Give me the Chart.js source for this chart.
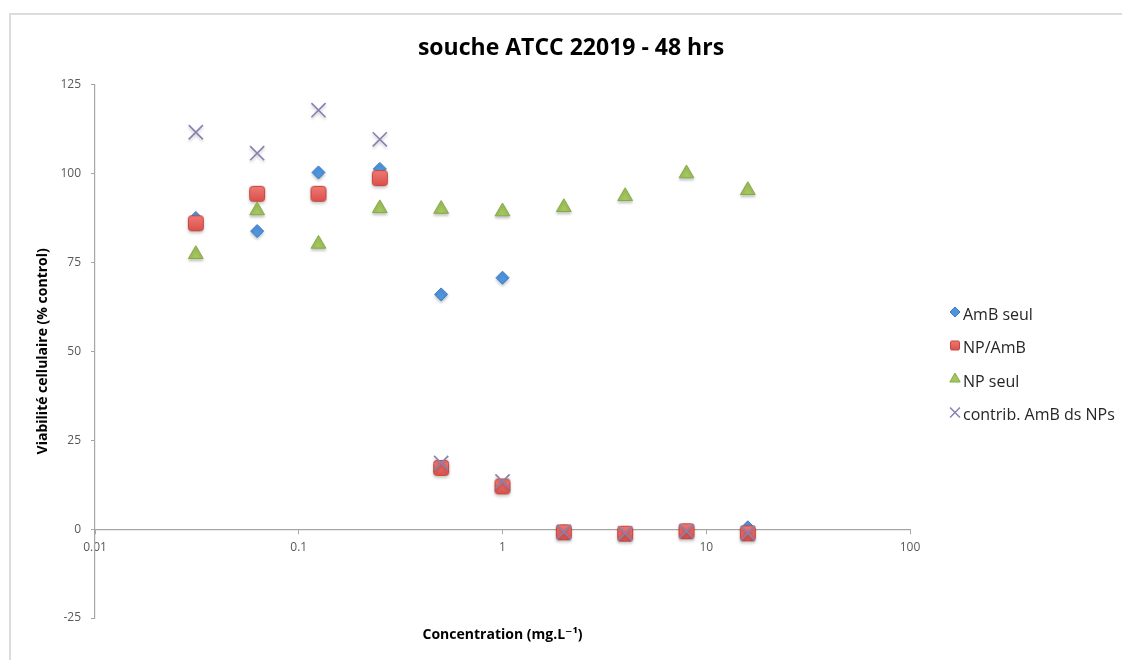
<!DOCTYPE html>
<html lang="fr">
<head>
<meta charset="utf-8">
<title>souche ATCC 22019 - 48 hrs</title>
<script src="https://cdn.jsdelivr.net/npm/chart.js@4.4.1/dist/chart.umd.min.js"></script>
<style>
  html, body { margin: 0; padding: 0; background: #ffffff; }
  #wrap { width: 1122px; height: 660px; position: relative; }
</style>
</head>
<body>
<div id="wrap"><canvas id="chart" width="1122" height="660"></canvas></div>
<script>
// Concentrations tested (mg.L-1)
const concentrations = [0.03125, 0.0625, 0.125, 0.25, 0.5, 1, 2, 4, 8, 16];

// Cell viability (% of control) per series
const ambSeul    = [87.5, 83.8, 100.3, 101.3, 66.0, 70.7, -0.6, -1.0, -0.4, 0.5];
const npAmb      = [86.0, 94.3, 94.3, 98.7, 17.2, 12.0, -0.9, -1.3, -0.6, -1.2];
const npSeul     = [77.3, 89.6, 80.2, 90.2, 90.0, 89.3, 90.5, 93.6, 100.0, 95.3];
const contribAmB = [111.6, 105.7, 117.8, 109.6, 18.6, 13.4, -0.8, -1.2, -0.6, -1.1];

const seriesLabels = ['AmB seul', 'NP/AmB', 'NP seul', 'contrib. AmB ds NPs'];

// Axis ticks
const xTickValues = [0.01, 0.1, 1, 10, 100];
const xTickLabels = ['0.01', '0.1', '1', '10', '100'];
const yTickValues = [-25, 0, 25, 50, 75, 100, 125];

const chartTitle = 'souche ATCC 22019 - 48 hrs';
const xTitle = 'Concentration (mg.L\u207B\u00B9)';
const yTitle = 'Viabilité cellulaire (% control)';

Chart.defaults.font.family = "'Open Sans', 'DejaVu Sans', sans-serif";

const toPoints = (ys) => concentrations.map((x, i) => ({ x: x, y: ys[i] }));

const axisGrey = '#a6a6a6';
const tickText = '#595959';

// Rounded red square marker with a light top-to-bottom gradient
function makeSquareMarker(side, corner) {
  const pad = 1;
  const c = document.createElement('canvas');
  c.width = side + pad * 2;
  c.height = side + pad * 2;
  const g = c.getContext('2d');
  const grad = g.createLinearGradient(0, pad, 0, pad + side);
  grad.addColorStop(0, '#f07a74');
  grad.addColorStop(1, '#d9504a');
  g.fillStyle = grad;
  g.strokeStyle = '#c4463f';
  g.lineWidth = 1;
  g.beginPath();
  g.roundRect(pad + 0.5, pad + 0.5, side - 1, side - 1, corner);
  g.fill();
  g.stroke();
  return c;
}
const squareMarker = makeSquareMarker(16, 3);
const squareLegendMarker = makeSquareMarker(10, 1.5);

// Light frame around the figure
const framePlugin = {
  id: 'frame',
  beforeDraw(chart) {
    const ctx = chart.ctx;
    ctx.save();
    ctx.strokeStyle = '#dcdcdc';
    ctx.lineWidth = 2;
    ctx.beginPath();
    ctx.moveTo(10, chart.height);
    ctx.lineTo(10, 14);
    ctx.lineTo(chart.width, 14);
    ctx.stroke();
    ctx.restore();
  }
};

// Soft drop shadow under the markers
const shadowPlugin = {
  id: 'markerShadow',
  beforeDatasetsDraw(chart) {
    const ctx = chart.ctx;
    ctx.save();
    ctx.shadowColor = 'rgba(0,0,0,0.22)';
    ctx.shadowBlur = 3;
    ctx.shadowOffsetX = 0;
    ctx.shadowOffsetY = 2;
  },
  afterDatasetsDraw(chart) {
    chart.ctx.restore();
  }
};

// Legend on the right, listed in dataset order
const legendPlugin = {
  id: 'sideLegend',
  afterDraw(chart) {
    const ctx = chart.ctx;
    const markerX = 955;
    const textX = 963;
    const firstY = 312;
    const step = 33.5;
    const legendRadius = [5, 6, 6, 7];
    ctx.save();
    chart.data.datasets.forEach((ds, i) => {
      const y = firstY + i * step;
      const style = i === 1 ? squareLegendMarker : ds.pointStyle;
      ctx.fillStyle = ds.backgroundColor;
      ctx.strokeStyle = ds.borderColor;
      ctx.lineWidth = ds.pointStyle === 'crossRot' ? 1.5 : 1;
      Chart.helpers.drawPoint(ctx, {
        pointStyle: style,
        radius: legendRadius[i],
        rotation: 0,
        borderWidth: ctx.lineWidth
      }, markerX, y);
      ctx.fillStyle = '#262626';
      ctx.font = "16px 'Open Sans', sans-serif";
      ctx.textAlign = 'left';
      ctx.textBaseline = 'middle';
      ctx.fillText(ds.label, textX, y + 3);
    });
    ctx.restore();
  }
};

new Chart(document.getElementById('chart'), {
  type: 'scatter',
  data: {
    datasets: [
      {
        label: seriesLabels[0],
        data: toPoints(ambSeul),
        pointStyle: 'rectRot',
        pointRadius: 6.5,
        backgroundColor: '#4f95de',
        borderColor: '#3b7bc4',
        borderWidth: 1,
        order: 3
      },
      {
        label: seriesLabels[1],
        data: toPoints(npAmb),
        pointStyle: squareMarker,
        pointRadius: 9,
        backgroundColor: '#e8605a',
        borderColor: '#c54a45',
        borderWidth: 1,
        order: 2
      },
      {
        label: seriesLabels[2],
        data: toPoints(npSeul),
        pointStyle: 'triangle',
        pointRadius: 8.5,
        backgroundColor: '#a3c65d',
        borderColor: '#88a94a',
        borderWidth: 1,
        order: 1
      },
      {
        label: seriesLabels[3],
        data: toPoints(contribAmB),
        pointStyle: 'crossRot',
        pointRadius: 10,
        backgroundColor: '#8a80b0',
        borderColor: '#8a80b0',
        borderWidth: 1.6,
        order: 0
      }
    ]
  },
  options: {
    responsive: false,
    animation: false,
    events: [],
    layout: { padding: { left: 20, right: 0, top: 0, bottom: 0 } },
    plugins: {
      legend: { display: false },
      tooltip: { enabled: false },
      title: {
        display: true,
        text: chartTitle,
        color: '#000000',
        font: { size: 23, weight: 'bold' },
        padding: { top: 35, bottom: 22 }
      }
    },
    scales: {
      x: {
        type: 'logarithmic',
        position: { y: 0 },
        min: 0.01,
        max: 100,
        afterBuildTicks(scale) {
          scale.ticks = xTickValues.map(v => ({ value: v, major: true }));
        },
        ticks: {
          color: tickText,
          font: { size: 12 },
          padding: 7,
          maxRotation: 0,
          autoSkip: false,
          callback(value) {
            const i = xTickValues.indexOf(value);
            return i >= 0 ? xTickLabels[i] : '';
          }
        },
        grid: { display: true, drawOnChartArea: false, drawTicks: true, tickLength: 4, color: axisGrey },
        border: { display: true, color: axisGrey, width: 1.2 }
      },
      xTitleAxis: {
        axis: 'x',
        type: 'linear',
        position: 'bottom',
        min: 0,
        max: 1,
        afterFit(scale) { scale.height = 42; },
        ticks: { display: false },
        grid: { display: false, drawTicks: false },
        border: { display: false },
        title: {
          display: true,
          text: xTitle,
          color: '#000000',
          font: { size: 14, weight: 'bold' },
          padding: { top: 0, bottom: 17 }
        }
      },
      y: {
        type: 'linear',
        position: 'left',
        min: -25,
        max: 125,
        afterBuildTicks(scale) {
          scale.ticks = yTickValues.map(v => ({ value: v }));
        },
        afterFit(scale) { scale.width = 75; },
        ticks: {
          color: tickText,
          font: { size: 12 },
          padding: 10
        },
        grid: { display: true, drawOnChartArea: false, drawTicks: true, tickLength: 4, color: axisGrey },
        border: { display: true, color: axisGrey, width: 1.2 },
        title: {
          display: true,
          text: yTitle,
          color: '#000000',
          font: { size: 14, weight: 'bold' },
          padding: { top: 15, bottom: 0 }
        }
      },
      legendSpace: {
        axis: 'y',
        type: 'linear',
        position: 'right',
        afterFit(scale) { scale.width = 212; },
        ticks: { display: false },
        grid: { display: false, drawTicks: false },
        border: { display: false }
      }
    }
  },
  plugins: [framePlugin, shadowPlugin, legendPlugin]
});
</script>
</body>
</html>
